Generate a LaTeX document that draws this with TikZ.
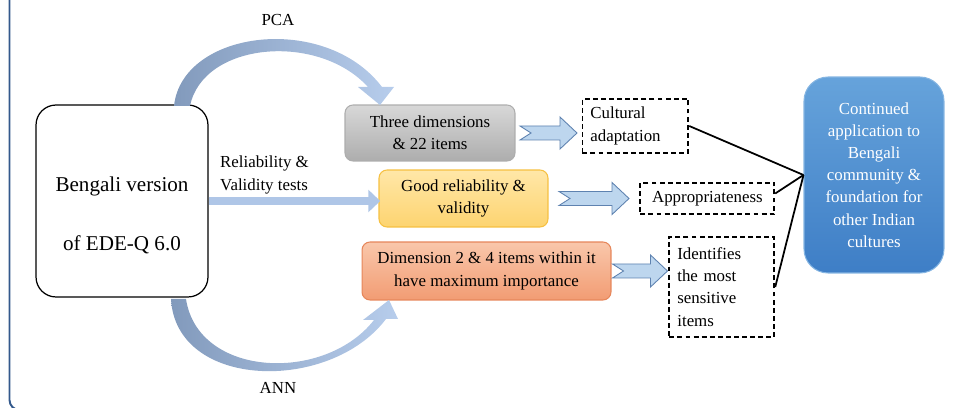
\documentclass[tikz,border=0pt]{standalone}
\usepackage{fontspec}
\setmainfont{Liberation Serif}
\usetikzlibrary{positioning,arrows.meta,calc}

\definecolor{ribdark}{HTML}{829ABC}
\definecolor{riblight}{HTML}{B7CDEC}
\definecolor{flowblue}{HTML}{AFC6E7}
\definecolor{chevfill}{HTML}{BDD6EE}
\definecolor{chevline}{HTML}{5E82B0}
\definecolor{frameblue}{HTML}{33598C}
\definecolor{greytop}{HTML}{D8D8D8}
\definecolor{greybot}{HTML}{ADADAD}
\definecolor{yeltop}{HTML}{FFE7A8}
\definecolor{yelbot}{HTML}{FDD470}
\definecolor{yelline}{HTML}{F6C041}
\definecolor{orgtop}{HTML}{F9C7AB}
\definecolor{orgbot}{HTML}{F29C73}
\definecolor{orgline}{HTML}{E6865A}
\definecolor{bluetop}{HTML}{66A3DB}
\definecolor{bluebot}{HTML}{3E7EC6}

\begin{document}
\begin{tikzpicture}[x=0.02cm, y=-0.02cm,
  txt/.style={font=\rmfamily\fontsize{9.6}{12.6}\selectfont},
  bigtxt/.style={font=\rmfamily\fontsize{12}{33.5}\selectfont, align=center},
  source/.style={draw, line width=0.7pt, rounded corners=0.4cm, minimum width=3.44cm, minimum height=3.84cm},
  result/.style={txt, rounded corners=0.16cm, align=center, inner sep=0pt, line width=0.6pt},
  outbox/.style={txt, draw, line width=1pt, dash pattern=on 2.8pt off 1.8pt, inner xsep=0.16cm, inner ysep=0pt, align=left},
  goal/.style={txt, rounded corners=0.48cm, align=center, text=white, inner sep=0pt,
    top color=bluetop, bottom color=bluebot, draw=bluetop!80!white, line width=0.6pt,
    minimum width=2.8cm, minimum height=3.92cm},
  ribbon/.style={left color=ribdark, right color=riblight},
  flow/.style={flowblue, line width=0.16cm, -{Triangle[length=0.24cm, width=0.44cm]}, shorten >=-1pt},
  chevron/.style={fill=chevfill, draw=chevline, line width=0.5pt},
  link/.style={line width=1pt},
  pics/chev/.style={code={
    \path[chevron] ({-#1/2},-7) -- ({#1/2-17},-7) -- ({#1/2-17},-16) -- ({#1/2},0)
      -- ({#1/2-17},16) -- ({#1/2-17},7) -- ({-#1/2},7) -- ({-#1/2+11},0) -- cycle;
  }}
]
\useasboundingbox (0,0) rectangle (957,408);

% frame edge
\draw[frameblue, line width=1.1pt, rounded corners=0.2cm] (9.5,-10) -- (9.5,410) -- (40,410);

\node[source, label={[bigtxt, yshift=-0.29cm]center:{Bengali version\\of EDE-Q 6.0}}] (src) at (122,201) {};

\node[result, top color=greytop, bottom color=greybot, draw=greybot,
      minimum width=3.4cm, minimum height=1.12cm] (grey) at (430,133) {Three dimensions\\\& 22 items};
\node[result, top color=yeltop, bottom color=yelbot, draw=yelline,
      minimum width=3.38cm, minimum height=1.14cm] (yel) at (463.5,198.5) {Good reliability \&\\validity};
\node[result, top color=orgtop, bottom color=orgbot, draw=orgline,
      minimum width=4.98cm, minimum height=1.16cm] (org) at (486.5,271) {Dimension 2 \& 4 items within it\\have maximum importance};

\node[outbox, right=1.32cm of grey, yshift=0.14cm, text width=1.8cm, minimum height=1.08cm] (cult) {Cultural\\adaptation};
\node[outbox, right=1.82cm of yel, minimum width=2.68cm, minimum height=0.62cm, align=center] (approp) {Appropriateness};
\node[outbox, right=1.14cm of org, yshift=-0.32cm, text width=1.78cm, minimum height=2cm] (ident) {Identifies\\the most\\sensitive\\items};

\node[goal] (cont) at (874,175) {Continued\\application to\\Bengali\\community \&\\foundation for\\other Indian\\cultures};

% curved arrows
\shade[ribbon] (174,106) .. controls (182,30) and (325,12) .. (382,87)
  -- (394,87) -- (380,105) -- (358,87) -- (368,87)
  .. controls (318,32) and (203,42) .. (190,106) -- cycle;
\shade[ribbon] (171,299) .. controls (176,390) and (330,393) .. (386,319)
  -- (398,319) -- (389,300) -- (363,320) -- (374,320)
  .. controls (325,383) and (198,378) .. (186,299) -- cycle;

\node[txt] (pca) at (278,20) {PCA};
\node[txt] (ann) at (278,388) {ANN};
\node[txt, align=left, anchor=west] (tests) at (214,175) {Reliability \&\\Validity tests};

\draw[flow] (src.east) -- (src.east -| yel.west);

\pic at ($(grey.east)!0.5!(grey.east -| cult.west)$) {chev=57};
\pic at ($(yel.east)!0.5!(yel.east -| approp.west)$) {chev=70};
\pic at ($(org.east)!0.5!(org.east -| ident.west)$) {chev=55};

\draw[link] (cult.east) -- (cont.west);
\draw[link] ([yshift=0.1cm]approp.east) -- (cont.west);
\draw[link] (ident.east) -- (cont.west);

\end{tikzpicture}
\end{document}
